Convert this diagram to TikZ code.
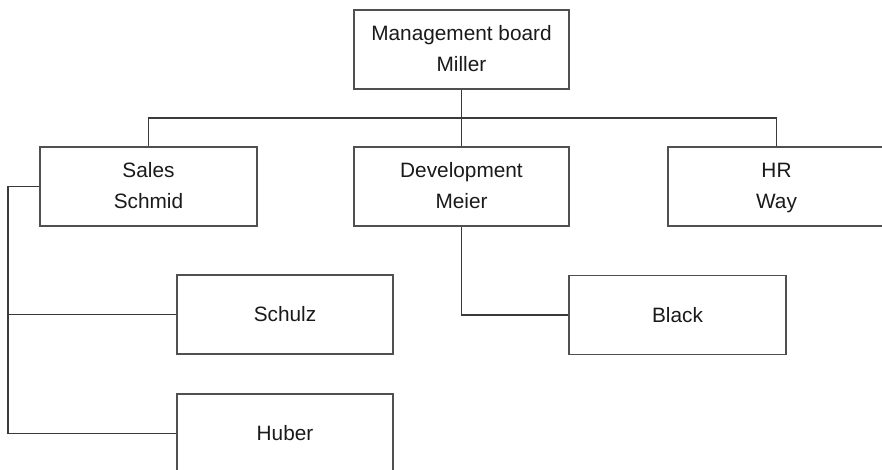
\documentclass[tikz,border=0pt]{standalone}
\usepackage{fontspec}
\setmainfont{Liberation Sans}
\definecolor{boxline}{HTML}{505050}
\definecolor{conn}{HTML}{3A3A3A}
\definecolor{txt}{HTML}{1A1A1A}
\begin{document}
\begin{tikzpicture}[x=1pt,y=-1pt,
  orgbox/.style={draw=boxline,line width=1.6pt,fill=white,rectangle,minimum width=216pt,minimum height=79pt,inner sep=0pt,align=center,text=txt,font=\fontsize{20.8}{31}\selectfont},
  link/.style={draw=conn,line width=1.5pt}]
\useasboundingbox (0,0) rectangle (882,469);
\clip (0,0) rectangle (882,469);
\fill[white] (0,0) rectangle (882,469);
\node[orgbox,minimum width=215pt] (mb) at (461.5,49.5) {\strut Management board\\\strut Miller};
\node[orgbox,minimum width=217pt] (sales) at (148.5,186.5) {\strut Sales\\\strut Schmid};
\node[orgbox,minimum width=215pt] (dev) at (461.5,186.5) {\strut Development\\\strut Meier};
\node[orgbox,minimum width=217pt] (hr) at (776.5,186.5) {\strut HR\\\strut Way};
\node[orgbox] (schulz) at (285,314.5) {Schulz};
\node[orgbox,minimum width=217pt] (black) at (677.5,315) {Black};
\node[orgbox] (huber) at (285,433.5) {Huber};
\coordinate (bus) at (461.5,118);
\coordinate (sl) at (8,186.5);
\draw[link] (mb.south) -- (bus);
\draw[link] (sales.north) |- (bus) -| (hr.north);
\draw[link] (dev.north) -- (bus);
\draw[link] (sales.west) -- (sl) |- (huber.west);
\draw[link] (sl |- schulz.west) -- (schulz.west);
\draw[link] (dev.south) |- (black.west);
\end{tikzpicture}
\end{document}
